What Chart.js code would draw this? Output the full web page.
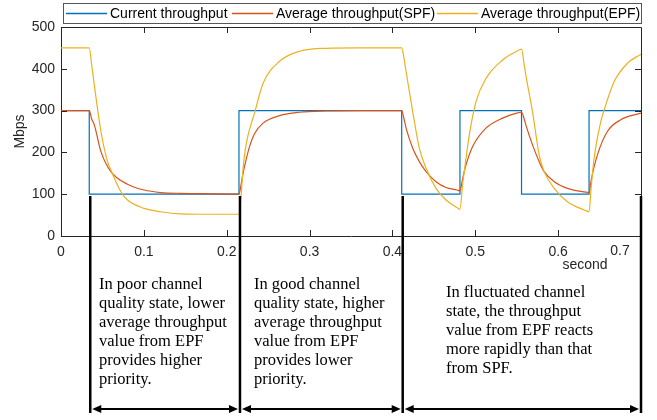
<!DOCTYPE html>
<html>
<head>
<meta charset="utf-8">
<script src="https://cdn.jsdelivr.net/npm/chart.js@4.4.1/dist/chart.umd.min.js"></script>
<style>
  html, body { margin: 0; padding: 0; background: #fff; }
  canvas { display: block; }
</style>
</head>
<body>
<canvas id="c" width="657" height="420"></canvas>
<script>
/* throughput.html — current vs SPF / EPF average throughput, with notes below the axes */
const seriesNames = ["Current throughput", "Average throughput(SPF)", "Average throughput(EPF)"];
const seriesColors = ["#0072BD", "#D95319", "#EDB120"];

// step signal: value holds from each time until the next one
const currentTime = [0, 0.0341, 0.2148, 0.4112, 0.4815, 0.5558, 0.6373, 0.7];
const currentValue = [300, 100, 300, 100, 300, 100, 300, 300];

const spfTime = [0, 0.0341, 0.037, 0.0402, 0.0482, 0.0602, 0.0803, 0.1004, 0.1205, 0.1446, 0.18, 0.2148,
  0.2175, 0.2197, 0.2237, 0.2277, 0.2337, 0.2438, 0.2639, 0.288, 0.32, 0.36, 0.4112,
  0.414, 0.4165, 0.4245, 0.4325, 0.4406, 0.4526, 0.4647, 0.478, 0.4815,
  0.4848, 0.4888, 0.4968, 0.5129, 0.5329, 0.55, 0.5558,
  0.559, 0.561, 0.5691, 0.5771, 0.5831, 0.5952, 0.6112, 0.633, 0.6373,
  0.64, 0.6474, 0.6594, 0.6755, 0.7];
const spfValue = [300, 300, 280, 266, 202, 154, 124, 110, 104, 102, 101, 100,
  125, 150, 185, 215, 245, 270, 288, 296, 299, 300, 300,
  280, 258, 210, 178, 154, 130, 116, 110, 108,
  138, 170, 214, 258, 282, 294, 296,
  280, 266, 218, 178, 154, 130, 114, 105, 104,
  135, 194, 250, 278, 294];

const epfTime = [0, 0.0341, 0.037, 0.0402, 0.0482, 0.0562, 0.061, 0.0723, 0.0803, 0.1004, 0.1205, 0.1446, 0.18, 0.2148,
  0.2175, 0.2197, 0.2237, 0.2337, 0.2438, 0.2639, 0.288, 0.32, 0.36, 0.4112,
  0.414, 0.4165, 0.4245, 0.4325, 0.4406, 0.4526, 0.4647, 0.478, 0.4815,
  0.4848, 0.4867, 0.4928, 0.5008, 0.5129, 0.5329, 0.55, 0.5558,
  0.559, 0.561, 0.5691, 0.5771, 0.5831, 0.5952, 0.6112, 0.633, 0.6373,
  0.64, 0.6434, 0.6514, 0.6554, 0.6675, 0.6835, 0.7];
const epfValue = [450, 450, 410, 361, 250, 178, 154, 106, 86, 66, 58, 53, 52, 52,
  100, 160, 222, 295, 365, 418, 442, 449, 450, 450,
  425, 393, 297, 210, 162, 114, 86, 68, 64,
  125, 154, 242, 321, 377, 421, 442, 447,
  410, 385, 297, 194, 154, 114, 82, 61, 58,
  120, 186, 273, 301, 369, 413, 435];

const xTickValues = [0, 0.1, 0.2, 0.3, 0.4, 0.5, 0.6, 0.7];
const yTickValues = [0, 100, 200, 300, 400, 500];

const notes = [
  ["In poor channel", "quality state, lower", "average throughput", "value from EPF", "provides higher", "priority."],
  ["In good channel", "quality state, higher", "average throughput", "value from EPF", "provides lower", "priority."],
  ["In fluctuated channel", "state, the throughput", "value from EPF reacts", "more rapidly than that", "from SPF."],
];

const AXIS = "#262626";
const SANS = "'Liberation Sans', Arial, sans-serif";
const SERIF = "'Liberation Serif', 'Times New Roman', serif";

function pts(xs, ys) { return xs.map((x, i) => ({ x, y: ys[i] })); }

function arrow(ctx, x1, x2, y) {
  const len = 9, hw = 4;
  ctx.beginPath();
  ctx.moveTo(x1 + len - 1, y); ctx.lineTo(x2 - len + 1, y);
  ctx.stroke();
  ctx.beginPath();
  ctx.moveTo(x1, y); ctx.lineTo(x1 + len, y - hw); ctx.lineTo(x1 + len, y + hw); ctx.closePath();
  ctx.moveTo(x2, y); ctx.lineTo(x2 - len, y - hw); ctx.lineTo(x2 - len, y + hw); ctx.closePath();
  ctx.fill();
}

const decor = {
  id: "decor",
  afterDraw(chart) {
    const { ctx, chartArea: a, scales: { x, y } } = chart;
    ctx.save();

    // box + inward ticks
    ctx.strokeStyle = AXIS; ctx.lineWidth = 1;
    ctx.beginPath();
    ctx.moveTo(a.left, a.top + 0.5); ctx.lineTo(a.right + 0.5, a.top + 0.5); ctx.lineTo(a.right + 0.5, a.bottom);
    xTickValues.slice(1, -1).forEach((v) => {
      const px = Math.round(x.getPixelForValue(v)) + 0.5;
      ctx.moveTo(px, a.bottom); ctx.lineTo(px, a.bottom - 6);
      ctx.moveTo(px, a.top); ctx.lineTo(px, a.top + 6);
    });
    yTickValues.slice(1, -1).forEach((v) => {
      const py = Math.round(y.getPixelForValue(v)) + 0.5;
      ctx.moveTo(a.left, py); ctx.lineTo(a.left + 6, py);
      ctx.moveTo(a.right, py); ctx.lineTo(a.right - 6, py);
    });
    ctx.stroke();

    ctx.fillStyle = AXIS;
    ctx.font = "14px " + SANS;
    ctx.textAlign = "center"; ctx.textBaseline = "middle";
    ctx.fillText("0.7", 620, 251);
    ctx.fillText("second", 585, 265);

    // legend
    ctx.fillStyle = "#fff";
    ctx.fillRect(63.5, 3.5, 578, 20);
    ctx.strokeStyle = "#555";
    ctx.strokeRect(63.5, 3.5, 578, 20);
    const sx = [66, 232, 437];
    ctx.lineWidth = 1.3;
    seriesNames.forEach((name, i) => {
      ctx.beginPath();
      ctx.strokeStyle = seriesColors[i];
      ctx.moveTo(sx[i], 13.5); ctx.lineTo(sx[i] + 41, 13.5);
      ctx.stroke();
      ctx.fillStyle = "#000"; ctx.textAlign = "left";
      ctx.fillText(name, sx[i] + 44, 14);
    });

    // section separators and arrows
    const bounds = [currentTime[1], currentTime[2], currentTime[3], currentTime[currentTime.length - 1]]
      .map((t) => x.getPixelForValue(t) + 1);
    bounds[3] -= 1;
    ctx.strokeStyle = "#000"; ctx.fillStyle = "#000";
    ctx.lineWidth = 2.5;
    ctx.beginPath();
    bounds.forEach((b) => { ctx.moveTo(b, 196); ctx.lineTo(b, 413); });
    ctx.stroke();
    ctx.lineWidth = 2;
    for (let i = 0; i < 3; i++) arrow(ctx, bounds[i] + 2, bounds[i + 1] - 2, 409);

    // notes
    ctx.font = "16.5px " + SERIF;
    ctx.textAlign = "left"; ctx.textBaseline = "alphabetic";
    const noteX = [99, 254, 446], noteY = [289, 289, 297];
    notes.forEach((lines, i) => {
      lines.forEach((s, j) => ctx.fillText(s, noteX[i], noteY[i] + j * 19));
    });

    ctx.restore();
  },
};

new Chart(document.getElementById("c"), {
  type: "line",
  data: {
    datasets: [
      { label: seriesNames[0], data: pts(currentTime, currentValue), borderColor: seriesColors[0], stepped: true, order: 2 },
      { label: seriesNames[1], data: pts(spfTime, spfValue), borderColor: seriesColors[1], cubicInterpolationMode: "monotone", order: 1 },
      { label: seriesNames[2], data: pts(epfTime, epfValue), borderColor: seriesColors[2], cubicInterpolationMode: "monotone", order: 0 },
    ],
  },
  options: {
    responsive: false, animation: false,
    layout: { padding: { top: 27, right: 16, left: 0, bottom: 0 } },
    elements: { point: { radius: 0 }, line: { borderWidth: 1.2 } },
    plugins: { legend: { display: false }, tooltip: { enabled: false } },
    scales: {
      x: {
        type: "linear", min: 0, max: 0.7,
        afterBuildTicks: (s) => { s.ticks = xTickValues.map((v) => ({ value: v })); },
        afterFit: (s) => { s.height = 184; },
        ticks: {
          autoSkip: false, maxRotation: 0, padding: 8, color: AXIS, font: { family: SANS, size: 14 },
          callback: (v) => (v === 0.7 ? "" : String(v)),
        },
        grid: { drawOnChartArea: false, drawTicks: false },
        border: { color: AXIS, width: 1 },
      },
      y: {
        min: 0, max: 500,
        afterBuildTicks: (s) => { s.ticks = yTickValues.map((v) => ({ value: v })); },
        afterFit: (s) => { s.width = 61; },
        ticks: { padding: 6, color: AXIS, font: { family: SANS, size: 14 } },
        grid: { drawOnChartArea: false, drawTicks: false },
        border: { color: AXIS, width: 1 },
        title: { display: true, text: "Mbps", color: AXIS, font: { family: SANS, size: 14 }, padding: { top: 12 } },
      },
    },
  },
  plugins: [decor],
});
</script>
</body>
</html>
